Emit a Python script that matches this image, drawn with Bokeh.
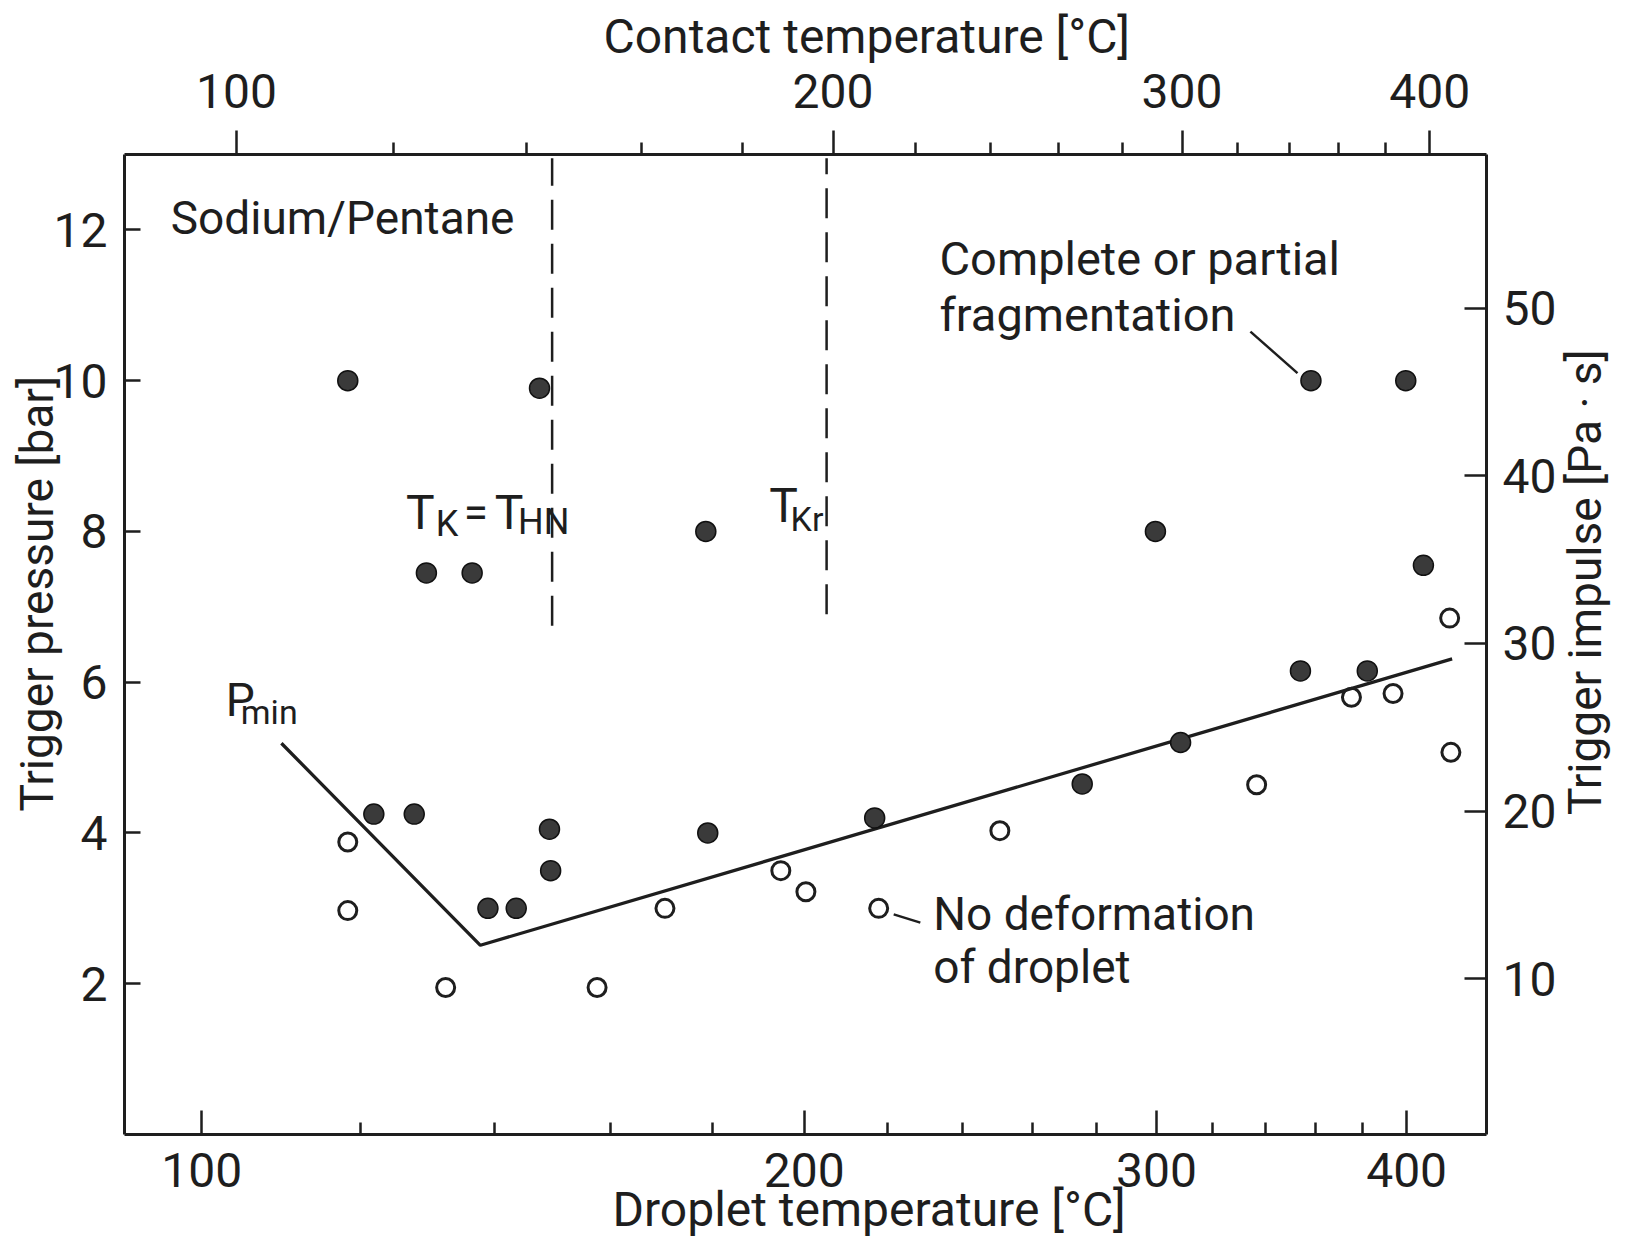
import math
from bokeh.plotting import figure
from bokeh.models import (Range1d, LogScale, LinearAxis, LogAxis, FixedTicker,
                          PrintfTickFormatter, Label, Title)
from bokeh.embed import file_html
from bokeh.resources import INLINE

# ---------------- data ----------------
# droplet temperature [°C] / trigger pressure [bar]
frag_temp = [118.3, 147.5, 129.5, 136.5, 178.6, 299.6, 358.3, 399.6, 407.8,
             121.9, 127.7, 149.2, 149.4, 139.0, 143.6, 179.0, 216.9, 275.4,
             308.4, 354.0, 382.3]
frag_pressure = [10.0, 9.9, 7.45, 7.45, 8.0, 8.0, 10.0, 10.0, 7.55,
                 4.25, 4.25, 4.05, 3.5, 3.0, 3.0, 4.0, 4.2, 4.65,
                 5.2, 6.15, 6.15]

nodef_temp = [118.3, 118.3, 132.4, 157.6, 170.4, 194.7, 200.4, 217.9,
              250.5, 336.6, 375.4, 393.8, 420.3, 420.9]
nodef_pressure = [3.88, 2.97, 1.95, 1.95, 3.0, 3.5, 3.22, 3.0,
                  4.03, 4.64, 5.8, 5.85, 6.85, 5.07]

pmin_temp = [109.6, 137.8, 421.5]
pmin_pressure = [5.19, 2.51, 6.31]

# characteristic contact temperatures (T_K = T_HN, T_Kr) on the contact-temperature axis
char_contact_temp = [144.3, 198.5]
char_line_low = [6.75, 6.9]
char_line_high = [12.95, 12.95]

x_ticks = [100, 200, 300, 400]
x_minor = [120, 140, 160, 180, 220, 240, 260, 280, 320, 340, 360, 380]
p_ticks = [2, 4, 6, 8, 10, 12]
imp_ticks = [10, 20, 30, 40, 50]

lead_frag_temp = [334.2, 352.8]
lead_frag_p = [10.65, 10.10]
lead_nodef_temp = [221.7, 228.6]
lead_nodef_p = [2.92, 2.81]

FONT = "Roboto"
INK = "#1e1e1e"

p = figure(frame_width=1362, frame_height=980, x_axis_type="log",
           x_range=Range1d(91.5, 438.5), y_range=Range1d(0, 13.0),
           output_backend="svg", toolbar_location=None,
           min_border_left=124, min_border_right=150,
           min_border_top=154, min_border_bottom=106)
p.outline_line_color = None
p.xgrid.visible = False
p.ygrid.visible = False
p.background_fill_color = "white"
p.border_fill_color = "white"

p.extra_x_ranges = {"contact": Range1d(87.8, 427.3)}
p.extra_x_scales = {"contact": LogScale()}
p.extra_y_ranges = {"impulse": Range1d(0.7, 59.18)}

bottom = p.below[0]
left = p.left[0]

top = LogAxis(x_range_name="contact")
p.add_layout(top, "above")
right = LinearAxis(y_range_name="impulse")
p.add_layout(right, "right")

def style(ax, tin, tout, min_in, min_out, standoff):
    ax.axis_line_color = INK
    ax.axis_line_width = 3
    ax.major_tick_line_color = INK
    ax.major_tick_line_width = 2.5
    ax.minor_tick_line_color = INK
    ax.minor_tick_line_width = 2.5
    ax.major_tick_in = tin
    ax.major_tick_out = tout
    ax.minor_tick_in = min_in
    ax.minor_tick_out = min_out
    ax.major_label_text_font = FONT
    ax.major_label_text_font_size = "48px"
    ax.major_label_text_color = INK
    ax.major_label_standoff = standoff

bottom.ticker = FixedTicker(ticks=x_ticks, minor_ticks=x_minor)
bottom.formatter = PrintfTickFormatter(format="%d")
style(bottom, 24, 0, 12, 0, 18)

top.ticker = FixedTicker(ticks=x_ticks, minor_ticks=x_minor)
top.formatter = PrintfTickFormatter(format="%d")
style(top, 0, 24, 0, 12, 23)

left.ticker = FixedTicker(ticks=p_ticks, minor_ticks=[])
style(left, 16, 0, 0, 0, 17)

right.ticker = FixedTicker(ticks=imp_ticks, minor_ticks=[])
style(right, 22, 0, 0, 0, 16)

# right axis title (reads bottom to top)
right_title = "Trigger impulse [Pa · s]"
props = LinearAxis.properties()
if "axis_label_orientation" in props:
    right.axis_label_orientation = math.pi / 2
if "axis_label_align" in props and "axis_label_orientation" in props:
    right.axis_label_align = "start"
    right_title = "\u00a0" * 28 + right_title
right.axis_label = right_title
right.axis_label_text_font = FONT
right.axis_label_text_font_size = "46px"
right.axis_label_text_font_style = "normal"
right.axis_label_text_color = INK
right.axis_label_standoff = 26

# other axis titles
def title(text, side, offset, standoff, valign, size=48):
    p.add_layout(Title(text=text, align="left", offset=offset, standoff=standoff,
                       vertical_align=valign, text_font=FONT,
                       text_font_size=f"{size}px", text_font_style="normal",
                       text_color=INK), side)

title("Contact temperature [°C]", "above", 479, 11, "bottom")
title("Droplet temperature [°C]", "below", 488, -18, "top")
title("Trigger pressure [bar]", "left", 323, -26, "bottom", size=46)

# P_min line
p.line(pmin_temp, pmin_pressure, line_width=3.3, line_color=INK)

# characteristic temperature dashed lines (contact temperature scale)
p.segment(x0=char_contact_temp, y0=char_line_low, x1=char_contact_temp, y1=char_line_high,
          x_range_name="contact", line_color=INK, line_width=2.5, line_dash="30 14")

# leader lines
p.line(lead_frag_temp, lead_frag_p, line_width=2.5, line_color=INK)
p.line(lead_nodef_temp, lead_nodef_p, line_width=2.5, line_color=INK)

# data points
p.scatter(frag_temp, frag_pressure, marker="circle", size=20,
          fill_color="#3a3a3a", line_color="#111111", line_width=1.5)
p.scatter(nodef_temp, nodef_pressure, marker="circle", size=18,
          fill_color=None, line_color=INK, line_width=3)

def lab(text, x, y, size):
    p.add_layout(Label(x=x, y=y, text=text, text_font=FONT,
                       text_font_size=f"{size}px", text_color=INK,
                       text_align="left", text_baseline="alphabetic"))

# annotations
lab("Sodium/Pentane", 96.5, 12.16, 46)
lab("Complete or partial", 233.7, 11.62, 47)
lab("fragmentation", 233.7, 10.88, 47)
lab("No deformation", 232.0, 2.92, 46)
lab("of droplet", 232.0, 2.22, 46)
lab("T", 126.5, 8.25, 48)
lab("K", 130.9, 8.10, 36)
lab("=", 135.2, 8.25, 44)
lab("T", 140.1, 8.25, 48)
lab("HN", 143.9, 8.13, 36)
lab("T", 192.1, 8.34, 48)
lab("Kr", 196.9, 8.17, 34)
lab("P", 102.8, 5.76, 46)
lab("min", 104.6, 5.60, 34)

open("out.html", "w").write(file_html(p, INLINE))
